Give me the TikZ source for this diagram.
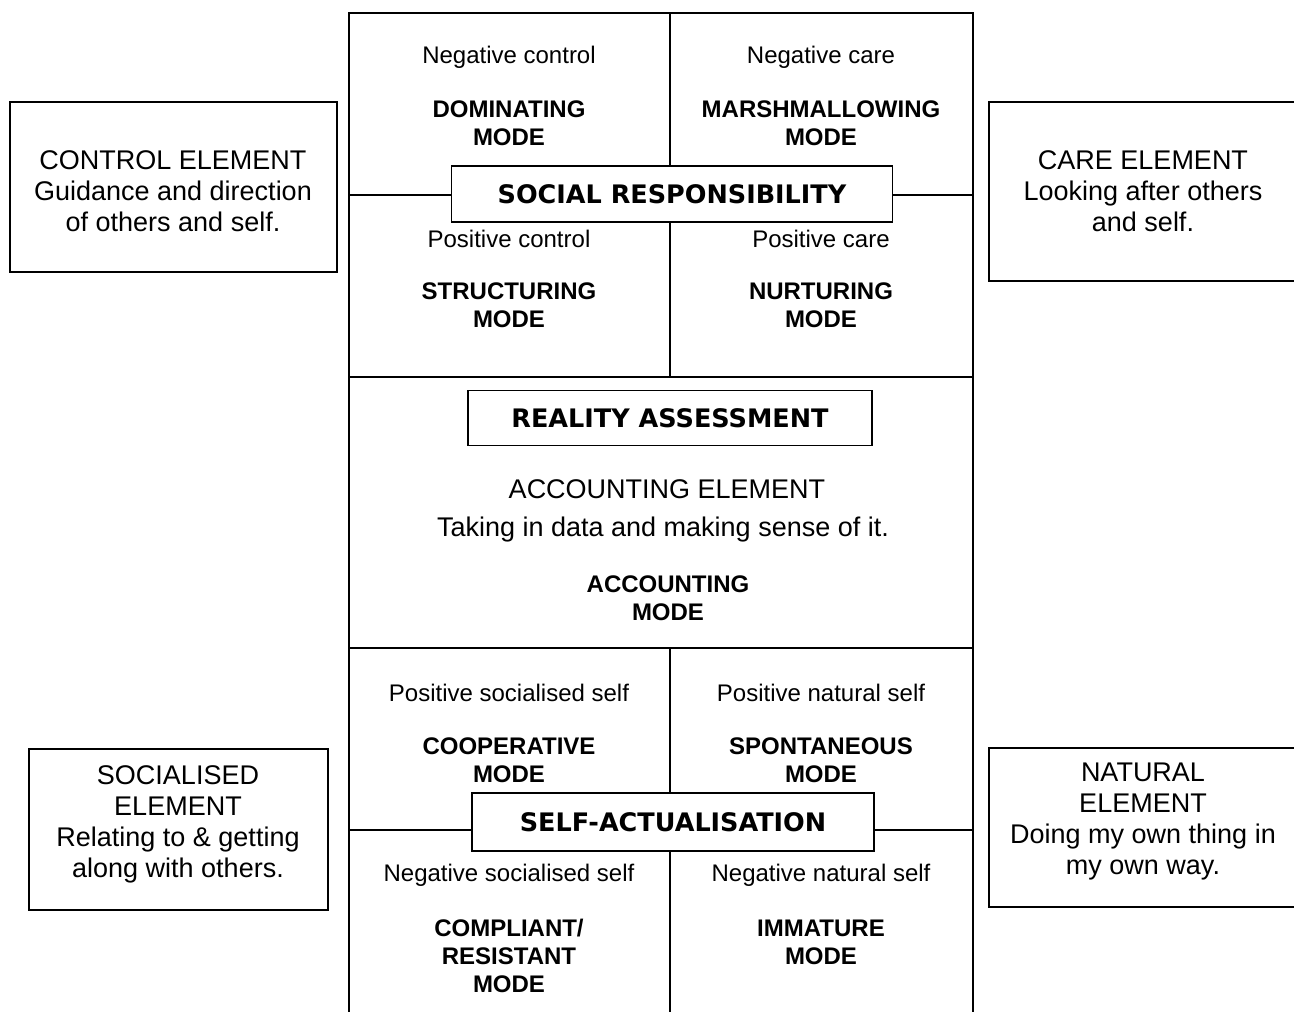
\documentclass[tikz,border=0pt]{standalone}
\usepackage{fontspec}
\setmainfont{Liberation Sans}
\newfontfamily\titlefont{DejaVu Sans}
\usepackage{tikz}
\usetikzlibrary{positioning}
\tikzset{
  elem/.style  ={align=center, inner sep=0pt, font=\fontsize{27}{31}\selectfont},
  lbl/.style   ={align=center, inner sep=0pt, font=\fontsize{24}{28}\selectfont},
  mode/.style  ={align=center, inner sep=0pt, font=\fontsize{24}{28}\selectfont\bfseries},
  ttl/.style   ={draw, fill=white, line width=1.6pt, inner sep=0pt, font=\titlefont\bfseries\fontsize{25.5}{30}\selectfont},
  frame/.style ={line width=1.6pt},
}

\begin{document}
\begin{tikzpicture}[x=1pt, y=-1pt]
  \useasboundingbox (0,0) rectangle (1294,1012);

  % main frame
  \draw[frame] (349,1012) -- (349,13) -- (973,13) -- (973,1012);
  \draw[frame] (349,377) -- (973,377);
  \draw[frame] (349,648) -- (973,648);
  \draw[frame] (670,13) -- (670,377);
  \draw[frame] (670,648) -- (670,1012);
  \draw[frame] (349,195) -- (973,195);
  \draw[frame] (349,830) -- (973,830);

  % side boxes
  \draw[frame] (10,102) rectangle (337,272);
  \draw[frame] (1294,102) -| (989,281) -- (1294,281);
  \draw[frame] (29,749) rectangle (328,910);
  \draw[frame] (1294,748) -| (989,907) -- (1294,907);

  \node[elem] (ctlel) at (173,191) {CONTROL ELEMENT\\Guidance and direction\\of others and self.};
  \node[elem] (careel) at (1143,191) {CARE ELEMENT\\Looking after others\\and self.};
  \node[elem] (socel) at (178,824) {SOCIALISED\\ELEMENT\\Relating to \& getting\\along with others.};
  \node[elem] (natel) at (1143,822) {NATURAL\\ELEMENT\\Doing my own thing in\\my own way.};

  % social responsibility
  \node[lbl]  (negctl)  at (509,57)  {Negative control};
  \node[lbl]  (negcare) at (821,57)  {Negative care};
  \node[mode] (dom)     at (509,123) {DOMINATING\\MODE};
  \node[mode] (marsh)   at (821,123) {MARSHMALLOWING\\MODE};
  \node[ttl, minimum width=441pt, minimum height=56pt] (socresp) at (672,194) {SOCIAL RESPONSIBILITY};
  \node[lbl]  (posctl)  at (509,239) {Positive control};
  \node[lbl]  (poscare) at (821,239) {Positive care};
  \node[mode] (struct)  at (509,305) {STRUCTURING\\MODE};
  \node[mode] (nurt)    at (821,305) {NURTURING\\MODE};

  % reality assessment
  \node[ttl, minimum width=404pt, minimum height=55pt] (realass) at (670,418) {REALITY ASSESSMENT};
  \node[elem] (accel)   at (667,489) {ACCOUNTING ELEMENT};
  \node[elem] (acctxt)  at (663,530) {Taking in data and making sense of it.};
  \node[mode] (accmode) at (668,598) {ACCOUNTING\\MODE};

  % self-actualisation
  \node[lbl]  (possoc)  at (509,693) {Positive socialised self};
  \node[lbl]  (posnat)  at (821,693) {Positive natural self};
  \node[mode] (coop)    at (509,760) {COOPERATIVE\\MODE};
  \node[mode] (spont)   at (821,760) {SPONTANEOUS\\MODE};
  \node[ttl, minimum width=402pt, minimum height=58pt] (selfact) at (673,822) {SELF-ACTUALISATION};
  \node[lbl]  (negsoc)  at (509,875) {Negative socialised self};
  \node[lbl]  (negnat)  at (821,875) {Negative natural self};
  \node[mode] (compl)   at (509,956) {COMPLIANT/\\RESISTANT\\MODE};
  \node[mode] (immat)   at (821,942) {IMMATURE\\MODE};
\end{tikzpicture}
\end{document}
